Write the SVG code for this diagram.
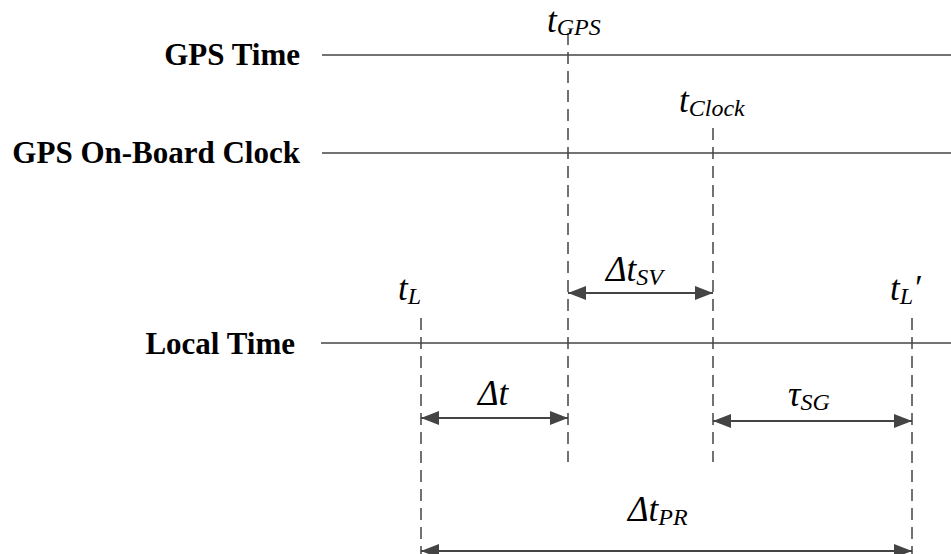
<svg xmlns="http://www.w3.org/2000/svg" width="951" height="554" viewBox="0 0 951 554">
<style>
.axis{stroke:#444;stroke-width:1.5;fill:none}
.dash{stroke:#444;stroke-width:1.5;stroke-dasharray:12 7;fill:none}
.arr{stroke:#444;stroke-width:2;fill:none;marker-start:url(#ah);marker-end:url(#ah)}
.lbl{font-family:"Liberation Serif",serif;font-weight:bold;font-size:31px;fill:#000;text-anchor:end}
.m{font-family:"Liberation Serif",serif;font-style:italic;font-size:35px;fill:#000}
.s{font-size:24px}
</style>
<defs>
<marker id="ah" markerWidth="20" markerHeight="14" refX="18" refY="7" orient="auto-start-reverse" markerUnits="userSpaceOnUse">
<path d="M0,0 L18,7 L0,14 Z" fill="#444"/>
</marker>
</defs>
<g id="gps-time">
<text class="lbl" x="300" y="65">GPS Time</text>
<line class="axis" x1="322" y1="55" x2="951" y2="55"/>
</g>
<g id="gps-clock">
<text class="lbl" x="300" y="163">GPS On-Board Clock</text>
<line class="axis" x1="322" y1="153" x2="951" y2="153"/>
</g>
<g id="local-time">
<text class="lbl" x="295" y="354">Local Time</text>
<line class="axis" x1="321" y1="343" x2="951" y2="343"/>
</g>
<g id="markers">
<line class="dash" x1="568" y1="33" x2="568" y2="462"/>
<line class="dash" x1="713" y1="128" x2="713" y2="462"/>
<line class="dash" x1="421" y1="318" x2="421" y2="554"/>
<line class="dash" x1="912" y1="318" x2="912" y2="554"/>
<text id="tGPS" class="m" x="547" y="32">t<tspan class="s" dy="3">GPS</tspan></text>
<text id="tClock" class="m" x="679" y="112">t<tspan class="s" dy="4">Clock</tspan></text>
<text id="tL" class="m" x="398" y="300">t<tspan class="s" dy="4">L</tspan></text>
<text id="tL2" class="m" x="890" y="300">t<tspan class="s" dy="4">L</tspan><tspan dy="-4">′</tspan></text>
</g>
<g id="connectors">
<line class="arr" x1="568" y1="293" x2="713" y2="293"/>
<line class="arr" x1="421" y1="418" x2="568" y2="418"/>
<line class="arr" x1="713" y1="421" x2="912" y2="421"/>
<line class="arr" x1="421" y1="551" x2="912" y2="551"/>
</g>
<g id="labels">
<text class="m" x="606" y="281">Δt<tspan class="s" dy="4">SV</tspan></text>
<text class="m" x="478" y="405">Δt</text>
<text class="m" x="788" y="406">τ<tspan class="s" dy="4">SG</tspan></text>
<text class="m" x="628" y="521">Δt<tspan class="s" dy="4">PR</tspan></text>
</g>
</svg>
